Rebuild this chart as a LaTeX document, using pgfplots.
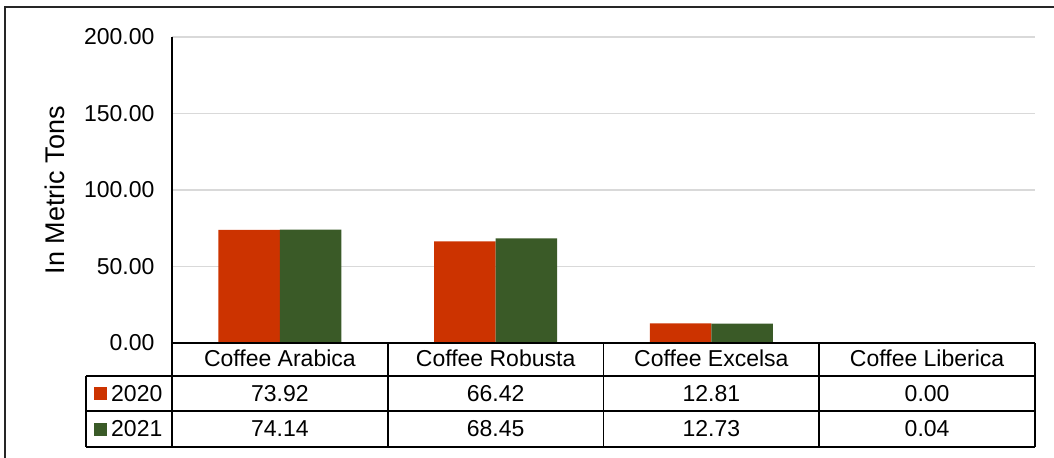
\documentclass[border=0pt]{standalone}
\usepackage{pgfplots}
\usepackage{pgfplotstable}
\pgfplotsset{compat=1.18}
\usepackage{fontspec}
\setmainfont{Liberation Sans}

\definecolor{barred}{HTML}{CC3300}
\definecolor{bargreen}{HTML}{3A5A27}
\definecolor{gridgray}{HTML}{D9D9D9}

\pgfkeys{/pgf/number format/assume math mode=true}

% production per coffee type, in metric tons
\pgfplotstableread[col sep=comma,row sep=\\]{
x,cat,y2020,y2021\\
0,Coffee Arabica,73.92,74.14\\
1,Coffee Robusta,66.42,68.45\\
2,Coffee Excelsa,12.81,12.73\\
3,Coffee Liberica,0.00,0.04\\
}\coffeedata

\newcommand{\tabfont}{\fontsize{23bp}{27bp}\selectfont}

\begin{document}
\begin{tikzpicture}[x=1bp,y=1bp]
\useasboundingbox (-172,-115) rectangle (882,343);

% outer frame
\draw[line width=1.6bp,black!85] (-167,-115) -- (-167,336) -- (882,336);

\begin{axis}[
  at={(0,0)}, anchor=south west,
  scale only axis,
  width=863bp, height=306bp,
  xmin=-0.5, xmax=3.5,
  ymin=0, ymax=200,
  ytick={0,50,100,150,200},
  xtick=\empty,
  axis x line=none,
  axis y line*=left,
  y axis line style={line width=1.2bp,black},
  major tick length=0pt,
  ymajorgrids,
  grid style={line width=1.2bp,gridgray},
  yticklabel style={font=\tabfont,xshift=-14bp,
    /pgf/number format/fixed,/pgf/number format/fixed zerofill,
    /pgf/number format/precision=2},
  scaled y ticks=false,
  ylabel={In Metric Tons},
  every axis y label/.style={at={(axis description cs:-0.1356,0.5)},
    rotate=90,anchor=center,font=\fontsize{27bp}{31bp}\selectfont},
  ybar, bar width=61.5bp,
  clip=false,
]
\addplot[fill=barred,draw=none,bar shift=-30.75bp] table[x=x,y=y2020]{\coffeedata};
\addplot[fill=bargreen,draw=none,bar shift=30.75bp] table[x=x,y=y2021]{\coffeedata};
\end{axis}

% data table below the plot area
\begin{scope}[line width=1.6bp]
  \draw (0,0) -- (863,0);
  \draw (-86,-33) -- (863,-33);
  \draw (-86,-68) -- (863,-68);
  \draw (-86,-104) -- (863,-104);
  \draw (-86,-33) -- (-86,-104);
  \foreach \c in {0,215.75,431.5,647.25,863} {
    \draw (\c,0) -- (\c,-104);
  }
\end{scope}

\fill[barred] (-77.7,-57) rectangle (-65,-44.3);
\fill[bargreen] (-77.7,-92.7) rectangle (-65,-80);
\node[anchor=base west,inner sep=0pt,font=\tabfont] at (-61,-58.7) {2020};
\node[anchor=base west,inner sep=0pt,font=\tabfont] at (-61,-93.7) {2021};

\foreach \i in {0,...,3} {
  \pgfmathsetmacro{\cx}{(\i+0.5)*215.75}
  \pgfplotstablegetelem{\i}{cat}\of\coffeedata
  \node[anchor=base,inner sep=0pt,font=\tabfont] at (\cx,-24) {\pgfplotsretval};
  \pgfplotstablegetelem{\i}{y2020}\of\coffeedata
  \node[anchor=base,inner sep=0pt,font=\tabfont] at (\cx,-58.7)
    {\pgfmathprintnumber[fixed,fixed zerofill,precision=2]{\pgfplotsretval}};
  \pgfplotstablegetelem{\i}{y2021}\of\coffeedata
  \node[anchor=base,inner sep=0pt,font=\tabfont] at (\cx,-93.7)
    {\pgfmathprintnumber[fixed,fixed zerofill,precision=2]{\pgfplotsretval}};
}
\end{tikzpicture}
\end{document}
